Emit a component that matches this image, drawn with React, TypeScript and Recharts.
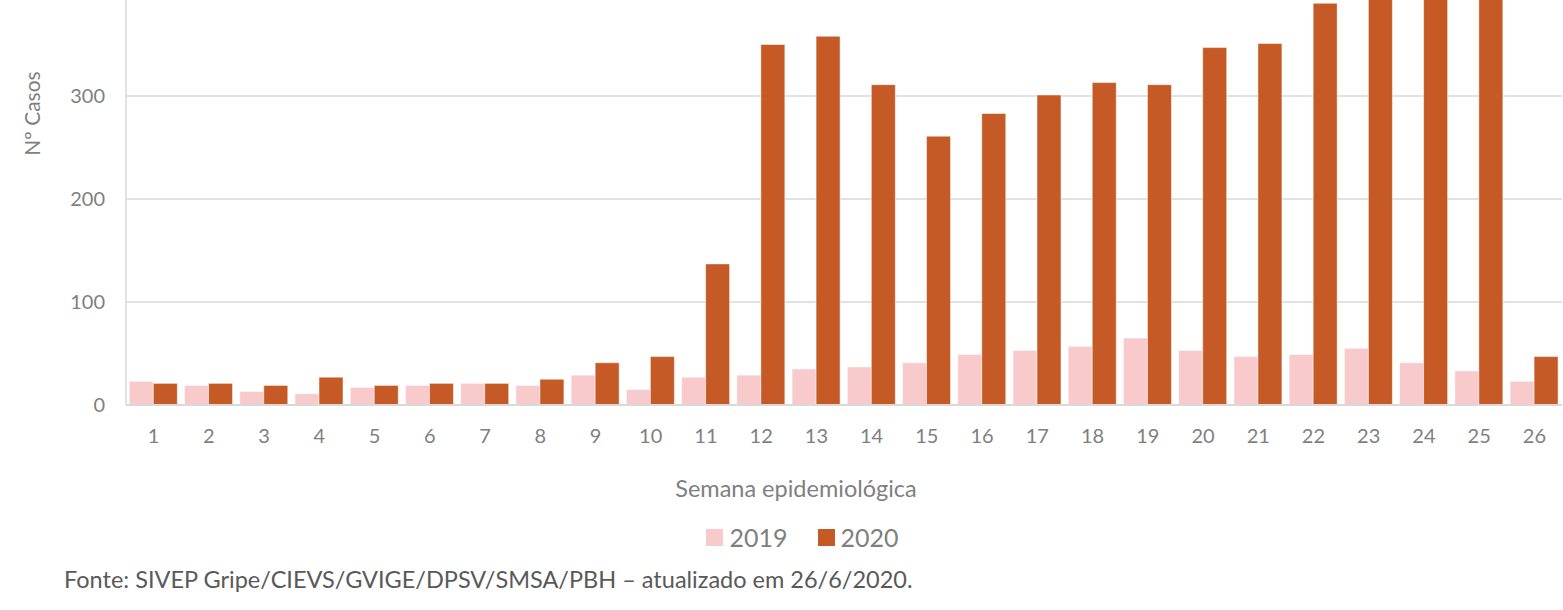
import { Bar, BarChart, CartesianGrid, Legend, XAxis, YAxis } from "recharts";

const weeks = [
  "1", "2", "3", "4", "5", "6", "7", "8", "9", "10", "11", "12", "13",
  "14", "15", "16", "17", "18", "19", "20", "21", "22", "23", "24", "25", "26",
];
const cases2019 = [23, 19, 13, 11, 17, 19, 21, 19, 29, 15, 27, 29, 35, 37, 41, 49, 53, 57, 65, 53, 47, 49, 55, 41, 33, 23];
// 23-25 run past the top of the picture, so these three are guesses
const cases2020 = [21, 21, 19, 27, 19, 21, 21, 25, 41, 47, 137, 350, 358, 311, 261, 283, 301, 313, 311, 347, 351, 390, 425, 440, 410, 47];
const yTicks = [0, 100, 200, 300];

const rows = weeks.map((w, i) => ({ week: w, "2019": cases2019[i], "2020": cases2020[i] }));

const FONT = "Lato, 'Open Sans', sans-serif";
const GRAY = "#7f7f7f";
const GRID = "#d9d9d9";

function LegendBox({ payload }: any) {
  return (
    <div
      style={{
        display: "flex",
        justifyContent: "center",
        alignItems: "center",
        height: 30,
        paddingLeft: 42,
        fontFamily: FONT,
        fontSize: 25,
        color: GRAY,
      }}
    >
      {(payload || []).map((p: any, i: number) => (
        <span key={p.value} style={{ display: "flex", alignItems: "center", marginLeft: i ? 30 : 0 }}>
          <span style={{ width: 17, height: 17, background: p.color, marginRight: 6 }} />
          {p.value}
        </span>
      ))}
    </div>
  );
}

export default function App() {
  return (
    <div style={{ position: "absolute", top: 0, left: 0, width: 1563, height: 610, overflow: "hidden", background: "#fff" }}>
      <div style={{ position: "absolute", top: -120, left: 0 }}>
        <BarChart
          width={1563}
          height={680}
          data={rows}
          margin={{ top: 10, right: 1, left: 0, bottom: 8 }}
          barCategoryGap="6%"
          barGap={0}
        >
          <CartesianGrid vertical={false} stroke={GRID} strokeWidth={1.5} />
          <XAxis
            dataKey="week"
            height={117}
            interval={0}
            tickLine={false}
            axisLine={{ stroke: GRID, strokeWidth: 2 }}
            tickMargin={18}
            tick={{ fill: GRAY, fontSize: 20, fontFamily: FONT }}
            label={{
              value: "Semana epidemiológica",
              position: "insideBottom",
              offset: 25,
              dx: -48,
              fill: GRAY,
              fontSize: 23.5,
              fontFamily: FONT,
            }}
          />
          <YAxis
            width={126}
            domain={[0, 500]}
            ticks={yTicks}
            tickLine={false}
            axisLine={{ stroke: GRID, strokeWidth: 1.5 }}
            tickMargin={15}
            tick={{ fill: GRAY, fontSize: 20, fontFamily: FONT }}
            label={{
              value: "Nº Casos",
              angle: -90,
              position: "center",
              dx: -30,
              dy: -34,
              fill: GRAY,
              fontSize: 21,
              fontFamily: FONT,
            }}
          />
          <Legend
            verticalAlign="bottom"
            height={30}
            wrapperStyle={{ left: 0, width: 1563, height: 30 }}
            content={<LegendBox />}
          />
          <Bar dataKey="2019" fill="#f8cacc" stroke="rgba(255,255,255,0.5)" isAnimationActive={false} />
          <Bar dataKey="2020" fill="#c55a26" stroke="rgba(255,255,255,0.5)" isAnimationActive={false} />
        </BarChart>
      </div>
      <div
        style={{
          position: "absolute",
          left: 64,
          top: 565,
          fontFamily: FONT,
          fontSize: 23.5,
          color: "#595959",
          whiteSpace: "nowrap",
        }}
      >
        Fonte: SIVEP Gripe/CIEVS/GVIGE/DPSV/SMSA/PBH – atualizado em 26/6/2020.
      </div>
    </div>
  );
}
